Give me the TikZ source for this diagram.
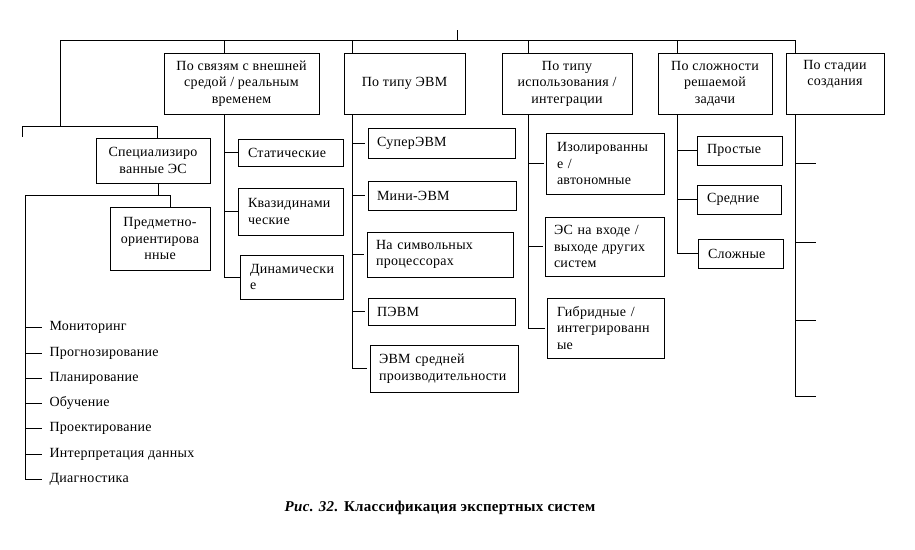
\documentclass[tikz,border=0pt]{standalone}
\usepackage{fontspec}
\setmainfont{Liberation Serif}[LetterSpace=2]
\usetikzlibrary{positioning,calc}

\begin{document}
\begin{tikzpicture}[
    x=1pt, y=-1pt,
    line width=1pt,
    font=\fontsize{14}{16.5}\selectfont,
    box/.style={rectangle, draw, inner sep=0pt, align=center},
    lbox/.style={box, align=left, inner xsep=10pt},
    item/.style={anchor=west, inner sep=0pt},
    tick/.style={-, shorten >=#1},
    tick/.default=0pt
]
\useasboundingbox (0,0) rectangle (915,549);

% top level
\node[box, minimum width=155, minimum height=61] (svyaz) at (241.5,83.5) {По связям с внешней\\средой / реальным\\временем};
\node[box, minimum width=121, minimum height=61] (evm) at (404.5,83.5) {По типу ЭВМ};
\node[box, minimum width=130, minimum height=61] (isp) at (567,83.5) {По типу\\использования /\\интеграции};
\node[box, minimum width=114, minimum height=61] (slozh) at (715,83.5) {По сложности\\решаемой\\задачи};
\node[box, minimum width=98, minimum height=61] (stad) at (835,83.5) {По стадии\\создания\\\strut};

% specialized
\node[box, minimum width=114, minimum height=45] (spec) at (153,160.5) {Специализиро\\ванные ЭС};
\node[box, minimum width=100, minimum height=63] (predm) at (160,238.5) {Предметно-\\ориентирова\\нные};

% column: environment
\node[lbox, text width=85, minimum height=27] (stat) at (290.5,152.5) {Статические};
\node[lbox, text width=85, minimum height=47] (kvazi) at (290.5,211.5) {Квазидинами\\ческие};
\node[lbox, text width=83, minimum height=44] (din) at (291.5,277) {Динамически\\е};

% column: computer type
\node[lbox, inner xsep=9pt, text width=129, minimum height=30] (super) at (441.5,143) {СуперЭВМ};
\node[lbox, inner xsep=9pt, text width=130, minimum height=29] (mini) at (442,195.5) {Мини-ЭВМ};
\node[lbox, inner xsep=9pt, text width=128, minimum height=45] (simv) at (440,254.5) {На символьных\\процессорах};
\node[lbox, inner xsep=9pt, text width=129, minimum height=27] (pevm) at (441.5,311.5) {ПЭВМ};
\node[lbox, inner xsep=9pt, text width=130, minimum height=47] (sredn) at (444,368.5) {ЭВМ средней\\производительности};

% column: usage
\node[lbox, inner xsep=11pt, text width=96, minimum height=61] (izol) at (605,163.5) {Изолированны\\е /\\автономные};
\node[lbox, inner xsep=9pt, text width=101, minimum height=59] (vhod) at (604.5,246.5) {ЭС на входе /\\выходе других\\систем};
\node[lbox, inner xsep=10pt, text width=97, minimum height=60] (gibr) at (605.5,328) {Гибридные /\\интегрированн\\ые};

% column: complexity
\node[lbox, text width=65, minimum height=29] (prost) at (739.5,150.5) {Простые};
\node[lbox, text width=64, minimum height=29] (sred) at (739,199.5) {Средние};
\node[lbox, text width=65, minimum height=29] (slozhn) at (740.5,253.5) {Сложные};

% list of tasks
\node[item] (l1) at (49,327) {Мониторинг};
\node[item] (l2) at (49,353) {Прогнозирование};
\node[item] (l3) at (49,378) {Планирование};
\node[item] (l4) at (49,403) {Обучение};
\node[item] (l5) at (49,428) {Проектирование};
\node[item] (l6) at (49,454) {Интерпретация данных};
\node[item] (l7) at (49,479) {Диагностика};

% caption
\node[font=\fontsize{15}{17}\selectfont\bfseries] (cap) at (440,508) {\textit{Рис. 32.} Классификация экспертных систем};

% bus
\coordinate (root) at (457,30);
\coordinate (busL) at (60,40);
\coordinate (busR) at (795,40);
\coordinate (tSv) at (224,40);
\coordinate (tEvm) at (352,40);
\coordinate (tIsp) at (528,40);
\coordinate (tSl) at (677,40);
\draw (root) -- (root |- busL);
\draw (busL) -- (busR);

% environment branch
\draw (tSv) -- (tSv |- svyaz.north);
\draw (tSv |- svyaz.south) -- (tSv |- din.west);
\foreach \n in {stat,kvazi,din}
    \draw[tick] (tSv |- \n.west) -- (\n.west);

% computer branch
\draw (tEvm) -- (tEvm |- evm.north);
\draw (tEvm |- evm.south) -- (tEvm |- sredn.west);
\foreach \n in {super,mini,simv,pevm,sredn}
    \draw[tick=3pt] (tEvm |- \n.west) -- (\n.west);

% usage branch
\draw (tIsp) -- (tIsp |- isp.north);
\draw (tIsp |- isp.south) -- (tIsp |- gibr.west);
\foreach \n in {izol,vhod,gibr}
    \draw[tick=2pt] (tIsp |- \n.west) -- (\n.west);

% complexity branch
\draw (tSl) -- (tSl |- slozh.north);
\draw (tSl |- slozh.south) -- (tSl |- slozhn.west);
\foreach \n in {prost,sred,slozhn}
    \draw[tick] (tSl |- \n.west) -- (\n.west);

% stage branch
\foreach \y [count=\i] in {163,242,320,396}
    \coordinate (st\i) at (816,\y);
\draw (busR) -- (busR |- stad.north);
\draw (busR |- stad.south) -- (busR |- st4);
\foreach \i in {1,...,4}
    \draw (busR |- st\i) -- (st\i);

% specialized branch
\coordinate (lA) at (22,126);
\coordinate (lB) at (157,126);
\coordinate (lStub) at (22,137);
\coordinate (sJ) at (158,195);
\coordinate (sA) at (25,195);
\coordinate (sB) at (170,195);
\draw (busL) -- (busL |- lA);
\draw (lA) -- (lB);
\draw (lA) -- (lStub);
\draw (lB) -- (lB |- spec.north);
\draw (sJ |- spec.south) -- (sJ);
\draw (sA) -- (sB);
\draw (sB) -- (sB |- predm.north);
\draw (sA) -- (sA |- l7.west);
\foreach \n in {l1,l2,l3,l4,l5,l6,l7}
    \draw[tick=7pt] (sA |- \n.west) -- (\n.west);
\end{tikzpicture}
\end{document}
